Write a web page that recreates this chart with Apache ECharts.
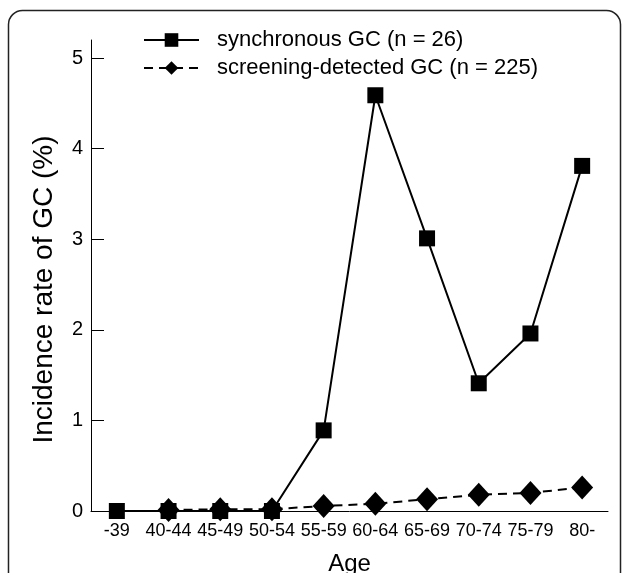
<!DOCTYPE html>
<html>
<head>
<meta charset="utf-8">
<script src="https://cdn.jsdelivr.net/npm/echarts@6/dist/echarts.min.js"></script>
<style>
  html, body { margin: 0; padding: 0; background: #fff; }
  #chart { width: 629px; height: 573px; }
</style>
</head>
<body>
<div id="chart"></div>
<script>
const ageGroups = ['-39', '40-44', '45-49', '50-54', '55-59', '60-64', '65-69', '70-74', '75-79', '80-']
const synchronous = [0, 0, 0, 0, 0.89, 4.59, 3.01, 1.41, 1.96, 3.81]
const screening = [null, 0.01, 0.02, 0.02, 0.055, 0.08, 0.13, 0.18, 0.2, 0.26]

const font = '"Liberation Sans", Arial, sans-serif'
const chart = echarts.init(document.getElementById('chart'))

chart.setOption({
  animation: false,
  textStyle: { fontFamily: font, color: '#000' },
  graphic: [{
    type: 'rect',
    shape: { x: 8.5, y: 10.5, width: 612, height: 620, r: 14 },
    style: { fill: 'none', stroke: '#222', lineWidth: 1.5 },
    silent: true
  }],
  legend: {
    orient: 'vertical',
    left: 143,
    top: 29,
    padding: 0,
    itemWidth: 55,
    itemHeight: 17,
    itemGap: 6,
    textStyle: { fontFamily: font, fontSize: 22, color: '#000', padding: [0, 0, 0, 13] },
    data: ['synchronous GC (n = 26)', 'screening-detected GC (n = 225)']
  },
  grid: {
    left: 91,
    right: 21,
    top: 40,
    bottom: 62,
    outerBoundsMode: 'none'
  },
  xAxis: {
    type: 'category',
    data: ageGroups,
    boundaryGap: true,
    name: 'Age',
    nameLocation: 'middle',
    nameGap: 41,
    nameTextStyle: { fontFamily: font, fontSize: 24, color: '#000' },
    axisLine: { lineStyle: { color: '#000', width: 1 } },
    axisTick: { inside: true, length: 10, lineStyle: { color: '#000' } },
    axisLabel: { fontFamily: font, fontSize: 18, color: '#000', margin: 11, interval: 0, hideOverlap: false },
    splitLine: { show: false }
  },
  yAxis: {
    type: 'value',
    min: 0,
    max: 5.2,
    interval: 1,
    name: 'Incidence rate of GC (%)',
    nameLocation: 'middle',
    nameRotate: 90,
    nameGap: 33,
    nameTextStyle: { fontFamily: font, fontSize: 28, color: '#000', padding: [0, 28, 0, 0] },
    axisLine: { show: true, lineStyle: { color: '#000', width: 1 } },
    axisTick: { show: true, inside: true, length: 13, lineStyle: { color: '#000' } },
    axisLabel: { fontFamily: font, fontSize: 20, color: '#000', margin: 8, showMaxLabel: false },
    splitLine: { show: false }
  },
  series: [{
    name: 'synchronous GC (n = 26)',
    type: 'line',
    data: synchronous,
    symbol: 'rect',
    symbolSize: 16,
    itemStyle: { color: '#000' },
    lineStyle: { color: '#000', width: 2 },
    z: 3
  }, {
    name: 'screening-detected GC (n = 225)',
    type: 'line',
    data: screening,
    symbol: 'diamond',
    symbolSize: [22, 24],
    itemStyle: { color: '#000' },
    lineStyle: { color: '#000', width: 2, type: [9, 6] },
    z: 4
  }]
})
</script>
</body>
</html>
